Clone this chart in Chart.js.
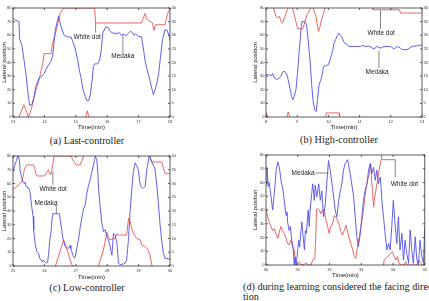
<!DOCTYPE html>
<html>
<head>
<meta charset="utf-8">
<script src="https://cdn.jsdelivr.net/npm/chart.js@4.4.0/dist/chart.umd.min.js"></script>
<style>
html, body { margin:0; padding:0; width:429px; height:301px; overflow:hidden; background:#fff; }
.box { position:absolute; }
.cap { position:absolute; font-family:"Liberation Serif", "DejaVu Serif", serif; font-size:10.2px; color:#222; white-space:nowrap; line-height:9.5px; }
</style>
</head>
<body>
<div class="box" style="left:0;top:0;width:180px;height:132px"><canvas id="chartA"></canvas></div>
<div class="box" style="left:246px;top:0;width:183px;height:132px"><canvas id="chartB"></canvas></div>
<div class="box" style="left:0;top:148px;width:180px;height:133px"><canvas id="chartC"></canvas></div>
<div class="box" style="left:246px;top:147px;width:183px;height:133px"><canvas id="chartD"></canvas></div>

<div class="cap" style="left:87px;top:136px;transform:translateX(-50%)">(a) Last-controller</div>
<div class="cap" style="left:339px;top:135px;transform:translateX(-50%)">(b) High-controller</div>
<div class="cap" style="left:87px;top:283px;transform:translateX(-50%)">(c) Low-controller</div>
<div class="cap" style="left:243px;top:282px">(d) during learning considered the facing direc<br>tion</div>

<script>
// (a) Last-controller
var aTime = [13.00, 13.09, 13.14, 13.19, 13.21, 13.28, 13.35, 13.41, 13.49, 13.53, 13.60, 13.67, 13.73, 13.83, 13.94, 13.99,
    14.05, 14.13, 14.21, 14.26, 14.35, 14.45, 14.53, 14.63, 14.74, 14.85, 14.90, 14.96, 15.06, 15.12, 15.17, 15.22, 15.30,
    15.35, 15.41, 15.46, 15.52, 15.56, 15.60, 15.70, 15.76, 15.81, 15.86, 15.95, 16.02, 16.08, 16.16, 16.24, 16.29, 16.38,
    16.45, 16.53, 16.59, 16.66, 16.74, 16.80, 16.85, 16.91, 16.99, 17.09, 17.15, 17.21, 17.27, 17.34, 17.41, 17.47, 17.52,
    17.57, 17.64, 17.70, 17.76, 17.84, 17.91, 17.98, 18.00];
var aMedaka = [72.5, 71, 70.5, 70, 57, 53, 42, 32, 15, 8.5, 9, 15, 22.5, 28.6, 30.3, 32,
    35, 38, 41, 44.5, 64, 74, 66.5, 60, 58.7, 58.7, 55.5, 52, 42, 33.5, 28.6, 21, 15,
    12, 12, 16, 27, 37, 39, 39, 42, 49, 61.6, 66, 66, 63.6, 61.6, 61.6, 61, 62,
    60, 61, 59.5, 61, 63, 62, 60, 61, 59, 59, 50.6, 41, 35, 29, 22, 16.4, 19.5,
    23.7, 32, 44.5, 56.7, 64, 63.5, 59, 56.7];
var aDotTime = [13.19, 13.35, 13.49, 13.57, 13.62, 13.73, 13.83, 13.96, 13.99, 14.21, 14.26, 14.37, 14.50, 14.58, 14.63,
    15.60, 15.63, 17.09, 17.15, 17.21, 17.25, 17.31, 17.38, 17.44, 17.49, 17.54, 17.84, 17.89, 17.95, 18.00,
    18.00, 15.31, 15.37, 15.41];
var aDotPos = [0, 9, 0, 5, 9, 20, 27, 41, 46.5, 46.5, 54, 63, 76, 79, 80,
    80, 69, 69, 72.6, 76, 72.6, 71, 70, 69, 63.6, 67.7, 67.7, 72.6, 77.5, 79,
    null, 0, 4.6, 0];

// (b) High-controller
var bTime = [8.00, 8.11, 8.16, 8.21, 8.27, 8.37, 8.43, 8.48, 8.53, 8.61, 8.67, 8.71, 8.78, 8.82, 8.86, 8.90, 8.96,
    9.01, 9.06, 9.12, 9.15, 9.24, 9.30, 9.35, 9.41, 9.46, 9.51, 9.56, 9.61, 9.65, 9.70, 9.76, 9.81, 9.84, 10.00,
    10.05, 10.10, 10.14, 10.18, 10.23, 10.29, 10.34, 10.39, 10.45, 10.50, 10.61, 10.66, 10.87, 11.03, 11.09, 11.19,
    11.30, 11.40, 11.46, 11.56, 11.67, 11.78, 11.99, 12.10, 12.20, 12.31, 12.36, 12.52, 12.68, 12.89, 13.00];
var bMedaka = [31, 31, 30, 32, 28.6, 27.4, 29, 30, 33, 33.5, 31, 27.4, 20, 15, 12.7, 15, 20,
    32, 47, 64, 70, 70, 67.7, 56.7, 42, 25, 11.5, 5.4, 4, 12.7, 23.7, 27.4, 32, 37, 38.4,
    42, 45.7, 49, 54, 56.7, 60, 61.6, 60, 58, 54.8, 53, 51.8, 51.8, 51.8, 52.5, 51.8,
    52, 50.6, 49.9, 51.8, 50.6, 51.8, 51.8, 49.9, 51.8, 50.6, 49.4, 49.4, 51.8, 52.4, 53];
var bDotTime = [8.00, 8.05, 8.05,
    8.24, 8.32, 8.37, 8.43, 8.48, 8.53, 8.59, 8.64, 8.69, 8.71, 8.71,
    8.67, 8.71, 8.76, 8.76,
    8.85, 8.96, 9.01, 9.17, 9.22, 9.28, 9.33, 9.44, 9.44,
    9.51, 9.60, 9.65, 9.68, 9.73, 9.78, 9.84, 9.89, 9.89,
    9.91, 9.94, 10.34, 10.36, 10.36,
    11.43, 11.44, 12.28, 12.31, 13.00];
var bDotPos = [4, 0, null,
    80, 74, 72.6, 74, 70, 69, 72.6, 76, 79, 80, null,
    0, 3.7, 0, null,
    80, 70, 65, 64.5, 67.7, 72.6, 76, 80, null,
    80, 74, 66.5, 62.8, 66.5, 71.4, 76, 80, null,
    0, 3, 3, 0, null,
    80, 78.7, 78.7, 76.3, 76.3];

// (c) Low-controller
var cTime = [25.00, 25.04, 25.11, 25.15, 25.18, 25.21, 25.23, 25.26, 25.32, 25.36, 25.39, 25.42, 25.50, 25.53, 25.57,
    25.60, 25.64, 25.66, 25.69, 25.72, 25.76, 25.82, 25.85, 25.89, 25.93, 25.97, 26.01, 26.06, 26.10, 26.13, 26.17,
    26.21, 26.24, 26.27, 26.48, 26.50, 26.56, 26.59, 26.63, 26.66, 26.72, 26.77, 26.82, 26.84, 26.91, 26.95, 26.98,
    27.03, 27.09, 27.14, 27.19, 27.25, 27.30, 27.35, 27.40, 27.46, 27.51, 27.56, 27.60, 27.62, 27.67, 27.70, 27.73,
    27.78, 27.83, 27.88, 27.93, 27.99, 28.04, 28.09, 28.15, 28.20, 28.25, 28.31, 28.36, 28.41, 28.52, 28.57, 28.62,
    28.68, 28.73, 28.78, 28.83, 28.89, 28.94, 28.99, 29.05, 29.10, 29.15, 29.21, 29.26, 29.34, 29.42, 29.52, 29.58,
    29.63, 29.68, 29.74, 29.79, 29.84, 30.00];
var cMedaka = [68.4, 72, 76.8, 80, 80, 75.6, 68.4, 66, 61, 60, 61, 57.5, 56.7, 55, 48.5,
    42.4, 36, 26, 19, 14, 10.4, 9, 5.6, 4.4, 3, 4.4, 3, 2, 2.5, 7.8, 18.7,
    24.7, 33.5, 38, 38, 34.4, 25, 20, 17, 14, 13, 13, 15, 12.6, 7.8, 5.8, 6.5,
    12.6, 20, 28, 35, 42, 44.4, 52.8, 58, 63, 68.4, 73, 77.6, 80, 77, 68.4, 55.2,
    42, 31, 25, 26.4, 21.6, 19, 14.5, 7.8, 23.5, 22.5, 16.5, 2, 1, 1.5, 2, 4.4,
    20, 40, 55, 68, 75, 73, 70, 59, 57, 56.5, 58, 70, 80, 75.6, 70.8, 58.7,
    45.6, 31, 17.5, 9.2, 5.6, 5];
var cDotTime = [25.00, 25.07, 25.15, 25.21, 25.25, 25.29, 25.32, 25.36, 25.39, 25.44, 25.66, 25.69, 25.74, 25.78,
    25.97, 26.03, 26.08, 26.13, 26.17, 26.21, 26.24, 26.27, 26.31, 26.85, 26.91, 26.95, 27.01, 27.14, 27.19, 27.25, 27.25,
    26.35, 26.45, 26.61, 26.64, 26.68, 26.74, 26.82, 26.88, 26.90, 26.90,
    27.72, 27.88, 27.99, 28.04, 28.09, 28.20, 28.25, 28.31, 28.36, 28.62, 28.68, 28.73, 28.78, 28.83, 28.94, 29.05,
    29.10, 29.21, 29.31, 29.36, 29.42, 29.44, 29.44,
    29.36, 29.42, 29.74, 29.79, 29.84, 30.00];
var cDotPos = [55.8, 57, 58, 60, 60.5, 62.5, 65, 70, 72, 73.5, 73.5, 71, 66, 65.5,
    65.5, 66.5, 68.6, 70, 67, 66.5, 70, 74.7, 80, 80, 77, 75.6, 73.5, 73.5, 76.4, 80, null,
    0, 7, 19, 17.5, 15, 10.4, 4.4, 0.7, 0, null,
    0, 11.6, 24.5, 21, 19, 20, 20, 23.5, 22.5, 22.5, 34.7, 32.5, 27.4, 24, 20, 19,
    15.3, 14, 11.6, 8, 0.8, 0, null,
    80, 75.6, 75.6, 71, 67.4, 67.4];

// (d) during learning considered the facing direction
var dTime = [30.00, 30.03, 30.07, 30.10, 30.16, 30.21, 30.24, 30.28, 30.32, 30.37, 30.42, 30.45, 30.49, 30.52, 30.56,
    30.60, 30.63, 30.66, 30.68, 30.73, 30.77, 30.81, 30.85, 30.89, 30.92, 30.95, 31.00, 31.03, 31.06, 31.10, 31.13,
    31.16, 31.21, 31.24, 31.27, 31.31, 31.33, 31.36, 31.39, 31.44, 31.47, 31.49, 31.52, 31.55, 31.60, 31.66, 31.71,
    31.76, 31.81, 31.87, 31.92, 31.97, 32.02, 32.08, 32.13, 32.18, 32.23, 32.29, 32.34, 32.39, 32.44, 32.49, 32.57,
    32.60, 32.65, 32.70, 32.76, 32.81, 32.86, 32.91, 32.97, 33.02, 33.07, 33.12, 33.18, 33.23, 33.28, 33.33, 33.39,
    33.44, 33.49, 33.54, 33.60, 33.65, 33.70, 33.75, 33.81, 33.86, 33.91, 33.96, 34.01, 34.07, 34.12, 34.17, 34.22,
    34.28, 34.33, 34.38, 34.43, 34.49, 34.54, 34.59, 34.64, 34.70, 34.75, 34.80, 34.85, 34.91, 34.96, 35.00];
var dMedaka = [59, 71, 57, 60, 49.5, 40, 47, 57, 69, 75, 71, 66, 59, 57, 49.5,
    42, 36, 38.6, 31.4, 25, 28, 18, 13, 0, 6, 0, 11, 18, 13, 25, 31.4,
    23, 11, 25, 23, 35, 40, 28, 40, 52, 59, 55.5, 47, 58, 49.5, 59, 47,
    54, 35, 44.7, 61.6, 76, 69, 59, 49.5, 40, 35, 47, 54, 59, 69, 73.7, 76.6,
    72.5, 66.4, 59, 49.5, 35, 20.5, 13.3, 23, 35, 47, 54.3, 59, 69, 73.7, 66.4, 71,
    61.6, 69, 59, 64, 47, 35, 23, 11, 15.7, 11, 27.8, 47, 27.8, 15.7, 35, 11,
    23, 3.6, 18, 8.5, 1.2, 25.4, 11, 1.2, 20.5, 3.6, 0, 18, 6, 1.2, 28];
var dDotTime = [30.00, 30.05, 30.10, 30.16, 30.21, 30.26, 30.31, 30.37, 30.42, 30.47, 30.52, 30.58, 30.63, 30.68,
    30.73, 30.79, 30.84, 30.89, 30.92, 30.95, 31.00, 31.05, 31.10, 31.21, 31.26, 31.31, 31.42, 31.47, 31.52, 31.54,
    31.57, 31.59, 31.62, 31.68, 31.73, 31.78, 31.83, 31.89, 31.94, 31.99, 32.04, 32.10, 32.15, 32.20, 32.25, 32.31,
    32.36, 32.41, 32.46, 32.52, 32.57, 32.62, 32.67, 32.73, 32.78, 32.83, 32.88, 32.94, 32.99, 33.04, 33.09, 33.14,
    33.20, 33.25, 33.30, 33.32, 33.35, 33.39, 33.41, 33.46, 33.51, 33.56, 33.62, 33.65, 33.65,
    33.70, 33.72, 33.77, 33.83, 33.93, 33.98, 34.04, 34.09, 34.14, 34.19, 34.25, 34.35, 34.40, 34.45, 34.72, 34.77,
    34.82, 34.87, 34.93, 35.00];
var dDotPos = [41, 35, 31.4, 28, 25, 26.5, 23, 19.3, 24, 28, 25, 23, 19.3, 15.7,
    14.5, 18, 13.3, 11, 3.6, 0, 1.2, 2.4, 0, 0.5, 1.7, 0, 0, 3.6, 4.8, 6,
    23, 40, 41, 40, 37.4, 40, 40, 32.6, 28, 23, 28, 30, 36, 35, 32.6, 29,
    24, 21.7, 25, 29, 24, 19.3, 15.7, 11, 6, 4.8, 13.3, 20.5, 28, 35, 44.7, 54.3,
    61.6, 66.4, 73.7, 64, 54.3, 42, 47, 54.3, 61.6, 69, 76, 80, null,
    0, 3.6, 4.8, 6, 8.5, 9.7, 6, 3.6, 6, 1.2, 0, 0, 2.4, 0, 0, 1.2,
    3.6, 1.2, 0, 0];

var xTicksA = [13, 14, 15, 16, 17, 18];
var xTicksB = [8, 9, 10, 11, 12, 13];
var xTicksC = [25, 26, 27, 28, 29, 30];
var xTicksD = [30, 31, 32, 33, 34, 35];

function toPoints(xs, ys) {
    var out = [];
    for (var i = 0; i < xs.length; i++) {
        out.push({ x: ys[i] === null ? null : xs[i], y: ys[i] });
    }
    return out;
}

// marco, marcas hacia dentro y textos con flecha
var framePlugin = {
    id: 'frame',
    afterDatasetsDraw: function (chart, args, opts) {
        var ctx = chart.ctx, a = chart.chartArea;
        var sx = chart.scales.x, sy = chart.scales.y, sy2 = chart.scales.y2;
        ctx.save();
        ctx.strokeStyle = '#333';
        ctx.lineWidth = 0.8;
        ctx.strokeRect(a.left, a.top, a.right - a.left, a.bottom - a.top);
        ctx.beginPath();
        sx.ticks.forEach(function (t) {
            var px = sx.getPixelForValue(t.value);
            ctx.moveTo(px, a.bottom); ctx.lineTo(px, a.bottom - 2);
            ctx.moveTo(px, a.top); ctx.lineTo(px, a.top + 2);
        });
        sy.ticks.forEach(function (t) {
            var py = sy.getPixelForValue(t.value);
            ctx.moveTo(a.left, py); ctx.lineTo(a.left + 2, py);
        });
        sy2.ticks.forEach(function (t) {
            var py = sy2.getPixelForValue(t.value);
            ctx.moveTo(a.right, py); ctx.lineTo(a.right - 2, py);
        });
        ctx.stroke();

        ctx.strokeStyle = '#555';
        ctx.lineWidth = 0.7;
        (opts.notes || []).forEach(function (n) {
            if (n.line) {
                ctx.beginPath();
                n.line.forEach(function (p, i) {
                    var px = sx.getPixelForValue(p[0]), py = sy.getPixelForValue(p[1]);
                    if (i === 0) ctx.moveTo(px, py); else ctx.lineTo(px, py);
                });
                ctx.stroke();
            }
            if (n.text) {
                ctx.fillStyle = '#222';
                ctx.font = '6.5px "Liberation Sans", Arial, sans-serif';
                ctx.textAlign = n.align || 'center';
                ctx.textBaseline = 'middle';
                ctx.fillText(n.text, sx.getPixelForValue(n.at[0]), sy.getPixelForValue(n.at[1]));
            }
        });
        ctx.restore();
    }
};

function makePanel(id, medT, medV, dotT, dotV, ticks, cfg) {
    var el = document.getElementById(id);
    var tickFont = { family: 'Liberation Sans', size: 4 };
    new Chart(el, {
        type: 'line',
        data: {
            datasets: [{
                label: 'Medaka',
                data: toPoints(medT, medV),
                borderColor: 'rgb(80, 80, 230)',
                borderWidth: 0.9,
                pointRadius: 0,
                tension: 0,
                yAxisID: 'y'
            }, {
                label: 'White dot',
                data: toPoints(dotT, dotV),
                borderColor: 'rgb(235, 85, 85)',
                borderWidth: 0.9,
                pointRadius: 0,
                tension: 0,
                spanGaps: false,
                yAxisID: 'y'
            }]
        },
        plugins: [framePlugin],
        options: {
            responsive: true,
            maintainAspectRatio: false,
            animation: false,
            layout: { padding: { top: cfg.padTop, left: 0, right: 0, bottom: 0 } },
            scales: {
                x: {
                    type: 'linear',
                    min: ticks[0],
                    max: ticks[ticks.length - 1],
                    afterBuildTicks: function (s) { s.ticks = ticks.map(function (v) { return { value: v }; }); },
                    grid: { display: false, drawTicks: false },
                    border: { display: false },
                    ticks: { font: tickFont, color: '#333', padding: 2, autoSkip: false, maxRotation: 0 },
                    title: { display: true, text: 'Time(min)', color: '#111',
                        font: { family: 'Liberation Sans', size: 6 }, padding: { top: 0, bottom: cfg.xTitleBottom } },
                    afterFit: function (s) { s.height = cfg.bottomH; }
                },
                y: {
                    position: 'left',
                    min: 0,
                    max: 80,
                    grid: { display: false, drawTicks: false },
                    border: { display: false },
                    ticks: { stepSize: 10, font: tickFont, color: '#333', padding: 1.5, autoSkip: false },
                    title: { display: true, text: 'Lateral position', color: '#111',
                        font: { family: 'Liberation Sans', size: 6 }, padding: { top: cfg.yTitleLeft, bottom: 0 } },
                    afterFit: function (s) { s.width = cfg.leftW; }
                },
                y2: {
                    position: 'right',
                    display: true,
                    min: 0,
                    max: 40,
                    grid: { display: false, drawTicks: false },
                    border: { display: false },
                    ticks: { stepSize: 5, font: tickFont, color: '#333', padding: 1.5, display: cfg.rightLabels },
                    afterFit: function (s) { s.width = cfg.rightW; }
                }
            },
            plugins: {
                legend: { display: false },
                tooltip: { enabled: false },
                frame: { notes: cfg.notes }
            }
        }
    });
}

makePanel('chartA', aTime, aMedaka, aDotTime, aDotPos, xTicksA, {
    padTop: 8, leftW: 13, rightW: 10, bottomH: 15, xTitleBottom: 1.5, yTitleLeft: 1, rightLabels: true,
    notes: [
        { line: [[15.63, 69], [15.63, 62]] },
        { text: 'White dot', at: [15.36, 58.7] },
        { line: [[16.5, 60.4], [16.5, 47]] },
        { text: 'Medaka', at: [16.5, 44.3] }
    ]
});

makePanel('chartB', bTime, bMedaka, bDotTime, bDotPos, xTicksB, {
    padTop: 8, leftW: 20, rightW: 7, bottomH: 15, xTitleBottom: 1.5, yTitleLeft: 5.5, rightLabels: true,
    notes: [
        { line: [[11.67, 78.5], [11.67, 64.5]] },
        { text: 'White dot', at: [11.69, 61.6] },
        { line: [[11.62, 48.9], [11.62, 35.9]] },
        { text: 'Medaka', at: [11.56, 32.8] }
    ]
});

makePanel('chartC', cTime, cMedaka, cDotTime, cDotPos, xTicksC, {
    padTop: 8, leftW: 13, rightW: 10, bottomH: 15, xTitleBottom: 0.5, yTitleLeft: 1, rightLabels: true,
    notes: [
        { line: [[26.27, 68.6], [26.27, 58.9]] },
        { text: 'White dot', at: [26.28, 55.8] },
        { line: [[26.33, 44], [26.38, 44], [26.38, 38]] },
        { text: 'Medaka', at: [26.05, 46] }
    ]
});

makePanel('chartD', dTime, dMedaka, dDotTime, dDotPos, xTicksD, {
    padTop: 8, leftW: 20, rightW: 4, bottomH: 15, xTitleBottom: 1.5, yTitleLeft: 5.5, rightLabels: false,
    notes: [
        { text: 'Medaka', at: [31.17, 66.9] },
        { line: [[31.55, 66.9], [31.97, 66.9]] },
        { line: [[33.65, 76.6], [34.07, 76.6], [34.07, 64]] },
        { text: 'White dot', at: [34.36, 59] }
    ]
});
</script>
</body>
</html>
